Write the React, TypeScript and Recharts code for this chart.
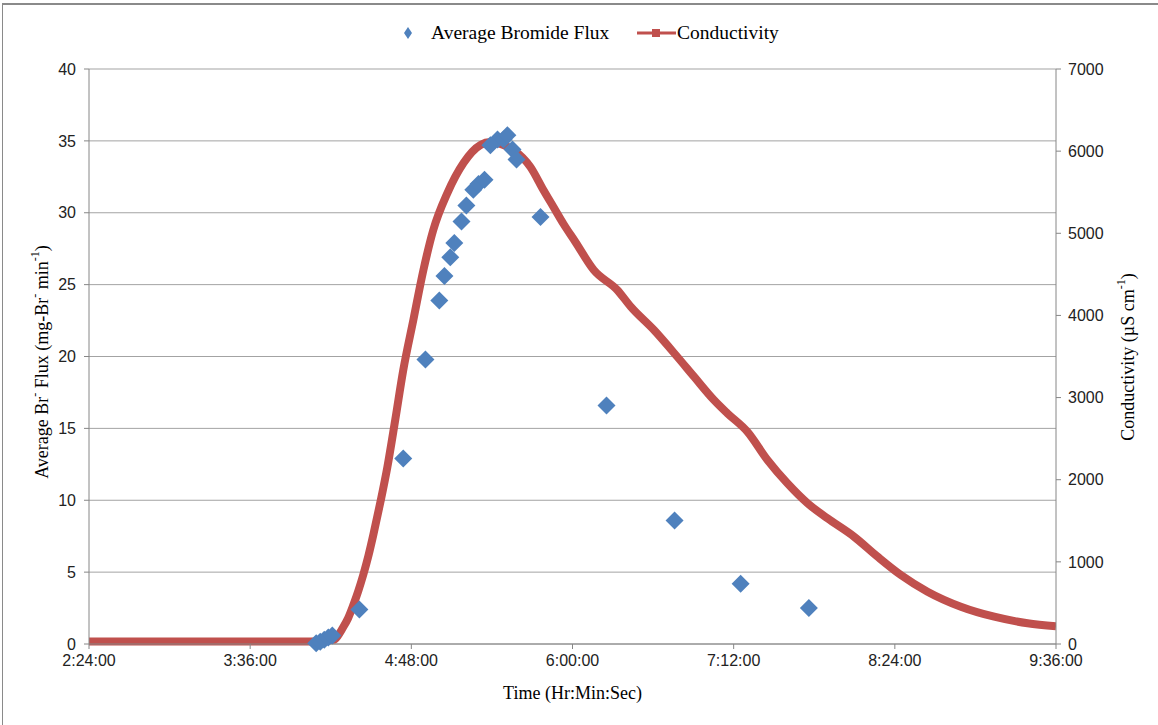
import React from 'react';
import {
    CartesianGrid,
    ComposedChart,
    Line,
    Scatter,
    XAxis,
    YAxis,
} from 'recharts';

// time in minutes since midnight (x axis runs 2:24:00 -> 9:36:00)
const fluxTimes = [
    245.5, 247.3, 249.1, 250.9, 252.7, 264.8, 284.4, 294.3, 300.5, 302.8, 305.4,
    307.2, 310.4, 312.6, 315.7, 318.0, 320.7, 323.3, 326.5, 329.2, 330.9, 333.2,
    335.0, 345.7, 375.2, 405.6, 435.1, 465.6,
];
// average bromide flux, mg-Br- per min
const fluxValues = [
    0.05, 0.15, 0.3, 0.45, 0.6, 2.4, 12.9, 19.8, 23.9, 25.6, 26.9,
    27.9, 29.4, 30.5, 31.6, 32.0, 32.3, 34.7, 35.1, 35.1, 35.4, 34.4,
    33.7, 29.7, 16.6, 8.6, 4.2, 2.5,
];

const condTimes = [
    144, 170, 200, 230, 242.8, 253.1, 257.6, 259.8, 262.1, 264.3, 266.5, 268.8,
    271.0, 274.1, 277.3, 280.8, 284.4, 288.9, 293.4, 297.8, 304.1, 311.3, 318.9,
    323.3, 327.8, 333.6, 341.2, 347.0, 351.5, 356.0, 361.3, 369.5, 380.0, 386.0,
    396.4, 406.8, 414.3, 423.2, 429.2, 438.1, 447.1, 456.0, 465.0, 473.9, 485.8,
    496.3, 506.7, 518.6, 533.5, 548.4, 563.3, 576,
];
// conductivity, uS/cm
const condValues = [
    30, 30, 30, 30, 30, 50, 207, 317, 475, 645, 840, 1071,
    1327, 1717, 2155, 2727, 3336, 3944, 4553, 5040, 5490, 5856, 6075,
    6110, 6087, 6014, 5807, 5527, 5320, 5113, 4894, 4553, 4310, 4107,
    3822, 3497, 3254, 2970, 2808, 2585, 2240, 1956, 1713, 1530, 1306,
    1063, 840, 637, 454, 332, 252, 215,
];

const timeTicks = [144, 216, 288, 360, 432, 504, 576];
const fluxTicks = [0, 5, 10, 15, 20, 25, 30, 35, 40];
const condTicks = [0, 1000, 2000, 3000, 4000, 5000, 6000, 7000];

const fluxData = fluxTimes.map((t, i) => ({ t, f: fluxValues[i] }));
const condData = condTimes.map((t, i) => ({ t, c: condValues[i] }));

const BLUE = '#4F81BD';
const RED = '#C0504D';
const AXIS = '#868686';
const SERIF = '"Liberation Serif", "Times New Roman", serif';
const SANS = '"Liberation Sans", Arial, sans-serif';

const fmtTime = (m: number) => {
    const h = Math.floor(m / 60);
    const mm = Math.round(m - h * 60);
    return `${h}:${String(mm).padStart(2, '0')}:00`;
};

const Diamond = (props: any) => {
    const { cx, cy } = props;
    const r = 9;
    return (
        <polygon
            points={`${cx},${cy - r} ${cx + r},${cy} ${cx},${cy + r} ${cx - r},${cy}`}
            fill={BLUE}
        />
    );
};

const LeftTitle = () => (
    <text
        x={42}
        y={362}
        transform="rotate(-90, 42, 362)"
        textAnchor="middle"
        dominantBaseline="central"
        fontFamily={SERIF}
        fontSize={18}
        fill="#000"
    >
        Average Br
        <tspan dy={-7} fontSize={12}>-</tspan>
        <tspan dy={7}> Flux (mg-Br</tspan>
        <tspan dy={-7} fontSize={12}>-</tspan>
        <tspan dy={7}> min</tspan>
        <tspan dy={-7} fontSize={12}>-1</tspan>
        <tspan dy={7}>)</tspan>
    </text>
);

const RightTitle = () => (
    <text
        x={1128}
        y={357}
        transform="rotate(-90, 1128, 357)"
        textAnchor="middle"
        dominantBaseline="central"
        fontFamily={SERIF}
        fontSize={18}
        fill="#000"
    >
        Conductivity (µS cm
        <tspan dy={-7} fontSize={12}>-1</tspan>
        <tspan dy={7}>)</tspan>
    </text>
);

const tickStyle = { fontSize: 16, fill: '#222', fontFamily: SANS };

export default function App() {
    return (
        <div
            style={{
                position: 'absolute',
                left: 0,
                top: 0,
                width: 1158,
                height: 725,
                background: '#fff',
                overflow: 'hidden',
            }}
        >
            {/* chart frame (only top and left edges are in view) */}
            <div
                style={{
                    position: 'absolute',
                    left: 2,
                    top: 3,
                    width: 1200,
                    height: 800,
                    borderTop: '2px solid #8a8a8a',
                    borderLeft: '1px solid #8a8a8a',
                }}
            />
            {/* legend */}
            <svg
                width={1158}
                height={60}
                style={{ position: 'absolute', left: 0, top: 0 }}
            >
                <polygon points="408,27 412,33 408,39 404,33" fill={BLUE} />
                <text x={431} y={39} fontFamily={SERIF} fontSize={19.5} fill="#000">
                    Average Bromide Flux
                </text>
                <line x1={637} y1={33} x2={676} y2={33} stroke={RED} strokeWidth={3} />
                <rect x={652} y={29} width={8} height={8} fill={RED} />
                <text x={677} y={39} fontFamily={SERIF} fontSize={19.5} fill="#000">
                    Conductivity
                </text>
            </svg>
            <ComposedChart
                width={1158}
                height={725}
                margin={{ top: 69, right: 0, bottom: 0, left: 0 }}
                style={{ position: 'absolute', left: 0, top: 0 }}
            >
                <CartesianGrid
                    yAxisId="left"
                    vertical={false}
                    stroke="#a3a3a3"
                    strokeWidth={1}
                />
                <XAxis
                    type="number"
                    dataKey="t"
                    domain={[144, 576]}
                    ticks={timeTicks}
                    tickFormatter={fmtTime}
                    allowDataOverflow
                    height={81}
                    stroke={AXIS}
                    tickSize={5}
                    tickMargin={6}
                    tick={tickStyle}
                    label={{
                        value: 'Time (Hr:Min:Sec)',
                        position: 'insideBottom',
                        offset: 26,
                        fontSize: 18,
                        fontFamily: SERIF,
                        fill: '#000',
                    }}
                />
                <YAxis
                    yAxisId="left"
                    orientation="left"
                    domain={[0, 40]}
                    ticks={fluxTicks}
                    width={89}
                    stroke={AXIS}
                    tickSize={5}
                    tickMargin={8}
                    tick={tickStyle}
                    label={{ content: () => <LeftTitle /> }}
                />
                <YAxis
                    yAxisId="right"
                    orientation="right"
                    domain={[0, 7000]}
                    ticks={condTicks}
                    width={102}
                    stroke={AXIS}
                    tickSize={5}
                    tickMargin={7}
                    tick={tickStyle}
                    label={{ content: () => <RightTitle /> }}
                />
                <Scatter
                    yAxisId="left"
                    data={fluxData}
                    dataKey="f"
                    shape={Diamond}
                    isAnimationActive={false}
                />
                <Line
                    yAxisId="right"
                    data={condData}
                    dataKey="c"
                    type="monotone"
                    stroke={RED}
                    strokeWidth={8}
                    dot={false}
                    activeDot={false}
                    isAnimationActive={false}
                />
            </ComposedChart>
        </div>
    );
}
